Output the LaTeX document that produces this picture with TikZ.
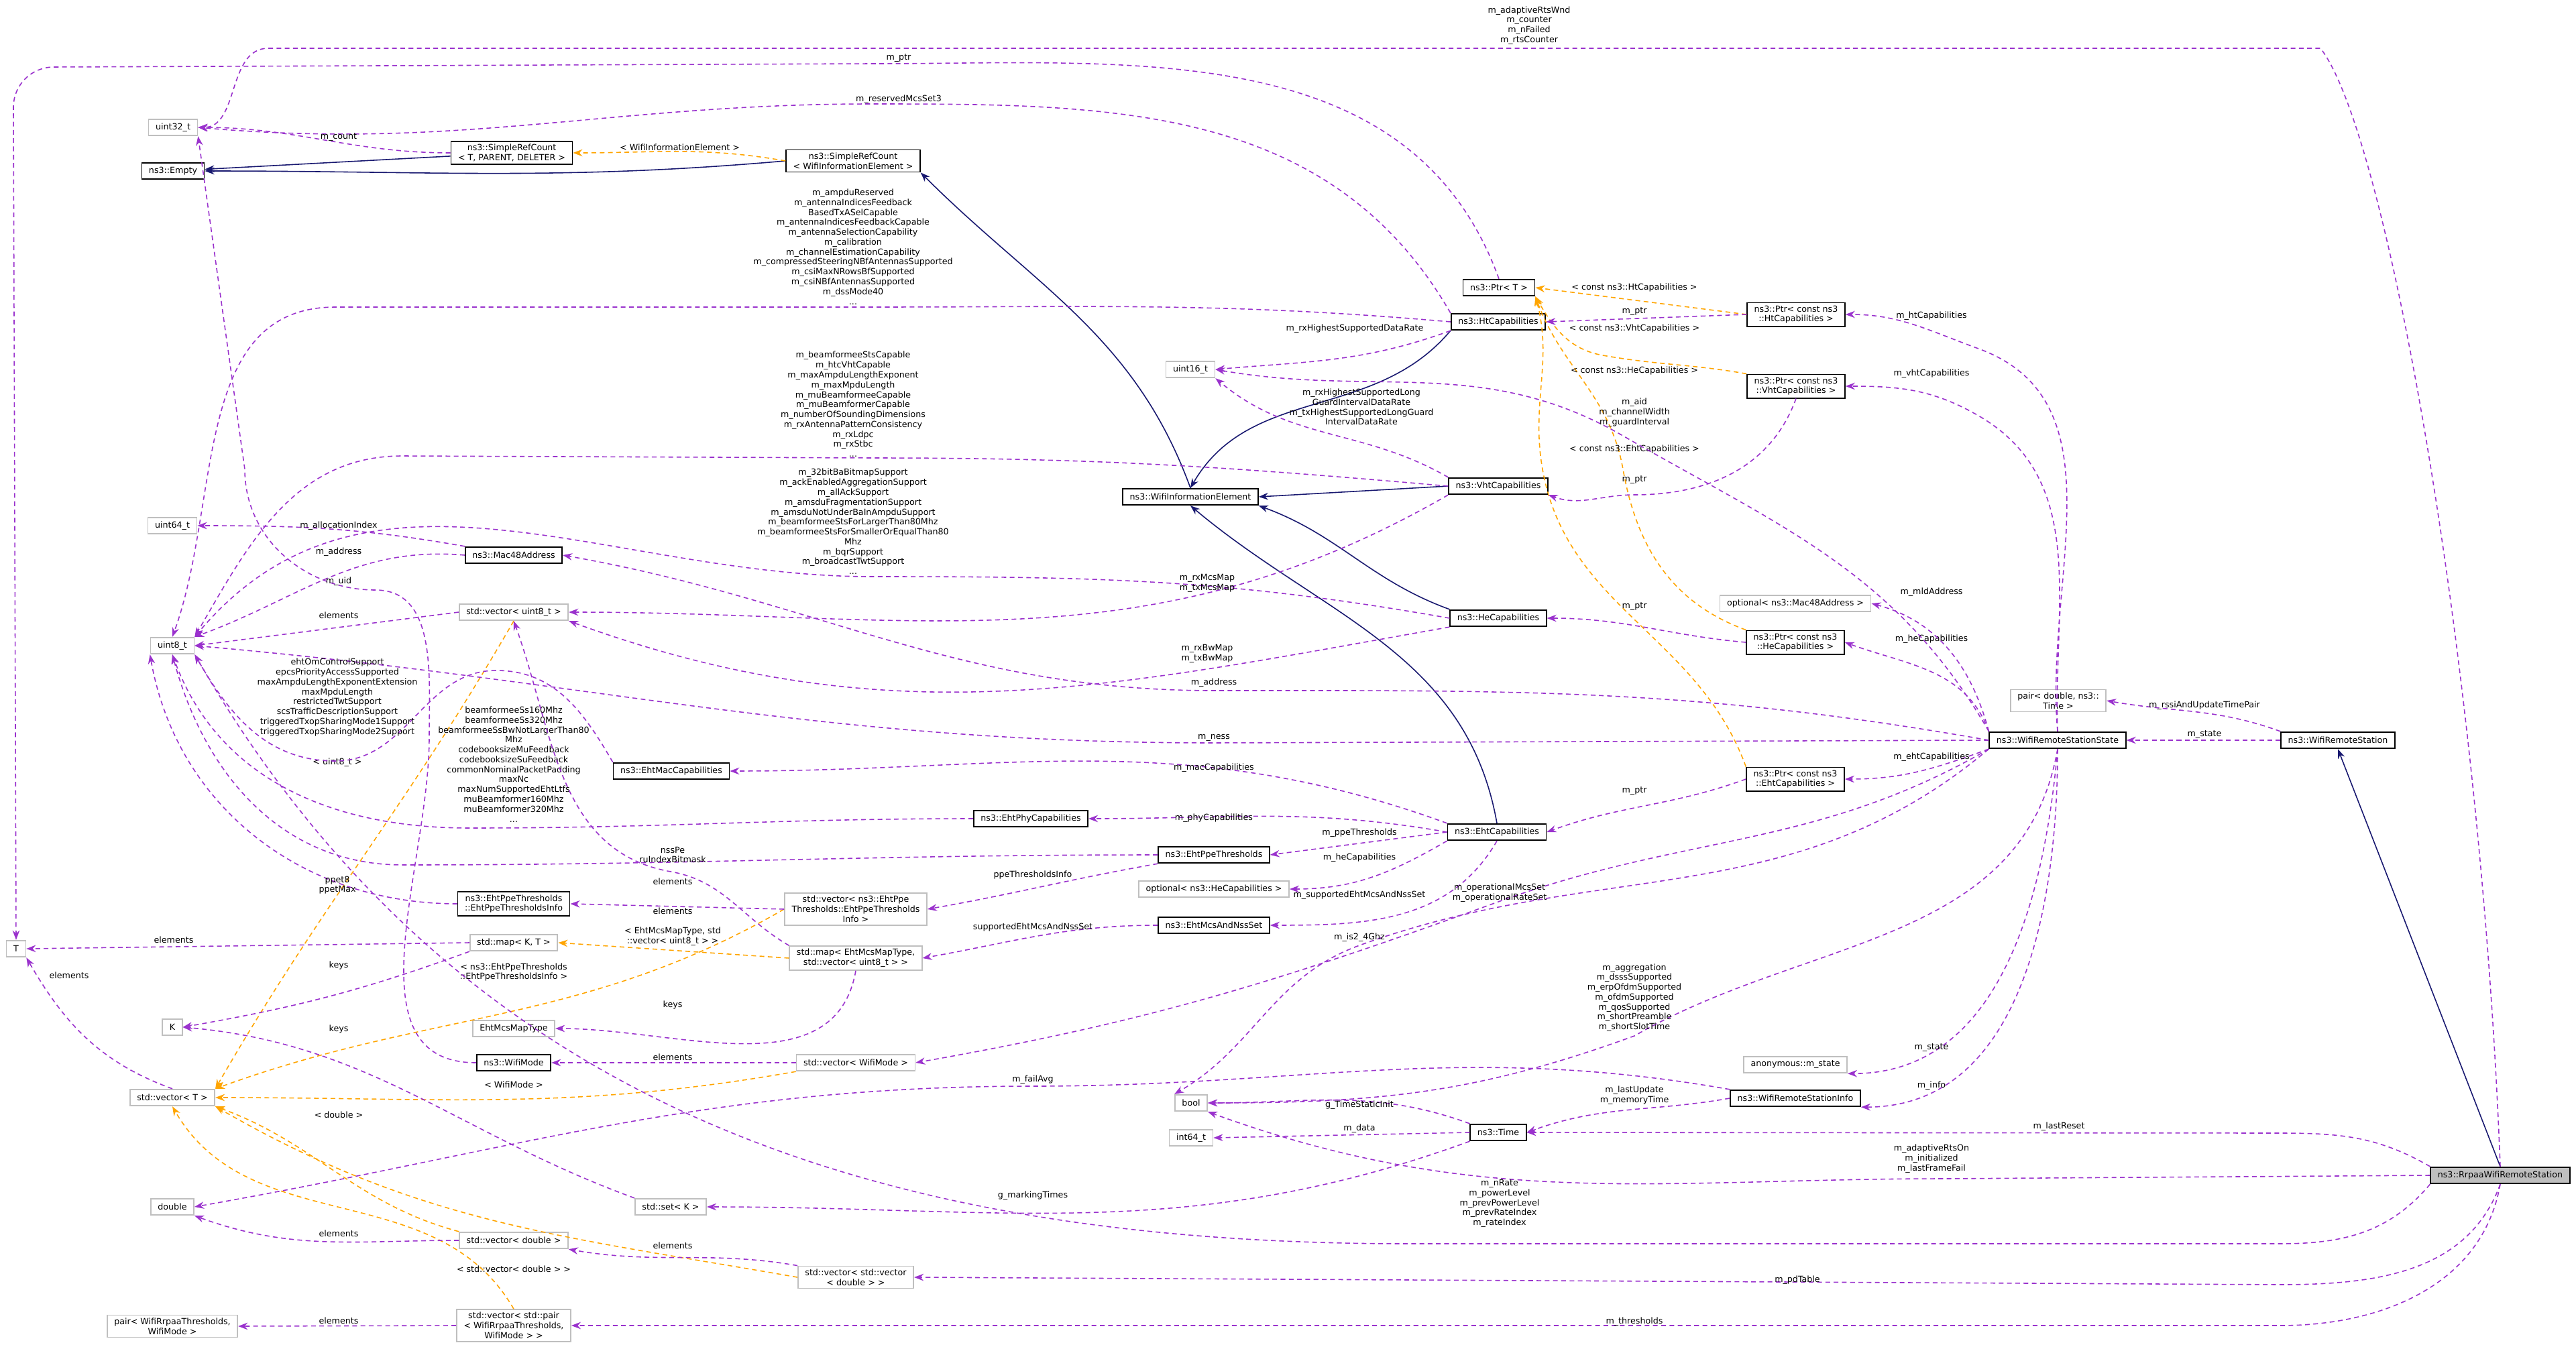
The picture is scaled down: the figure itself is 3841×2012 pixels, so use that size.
\documentclass[tikz,border=0pt]{standalone}
\usepackage{fontspec}
\setmainfont{DejaVu Sans}
\usetikzlibrary{arrows.meta}
\definecolor{usecol}{HTML}{9A32CD}
\definecolor{tplcol}{HTML}{FFA500}
\definecolor{inhcol}{HTML}{191970}
\definecolor{extcol}{HTML}{BFBFBF}

\tikzset{
  cls/.style={draw=black, line width=0.5pt, fill=white, inner xsep=3pt, inner ysep=1.2pt, minimum height=7pt, align=center},
  ext/.style={cls, draw=extcol},
  lbl/.style={inner sep=0pt, align=center},
  use/.style={draw=usecol, line width=0.45pt, dash pattern=on 2pt off 1.5pt, -{Stealth[length=4pt,width=3pt]}},
  tpl/.style={use, draw=tplcol},
  inh/.style={draw=inhcol, line width=0.45pt, -{Stealth[length=4pt,width=3pt]}}
}

\begin{document}
\begin{tikzpicture}[x=0.01cm, y=-0.01cm, every node/.append style={font=\fontsize{3.6}{4.2}\selectfont}]
	\useasboundingbox (0,0) rectangle (3841,2012);
	% left column
	\node (T) [ext] at (24,1415) {T};
	\node (u32) [ext] at (258,190) {uint32\_t};
	\node (empty) [cls] at (258,255) {ns3::Empty};
	\node (u64) [ext] at (257,784) {uint64\_t};
	\node (u8) [ext] at (257,963) {uint8\_t};
	\node (K) [ext] at (257,1532) {K};
	\node (vecT) [ext] at (257,1637) {std::vector\textless{} T \textgreater{}};
	\node (dbl) [ext] at (257,1800) {double};
	\node (pairRr) [ext] at (257,1978) {pair\textless{} WifiRrpaaThresholds,\\WifiMode \textgreater{}};
	% second column
	\node (srcT) [cls] at (763,228) {ns3::SimpleRefCount\\\textless{} T, PARENT, DELETER \textgreater{}};
	\node (mac48) [cls] at (766,828) {ns3::Mac48Address};
	\node (vecU8) [ext] at (766,913) {std::vector\textless{} uint8\_t \textgreater{}};
	\node (ppeInfo) [cls] at (766,1348) {ns3::EhtPpeThresholds\\::EhtPpeThresholdsInfo};
	\node (mapKT) [ext] at (766,1406) {std::map\textless{} K, T \textgreater{}};
	\node (mcsType) [ext] at (766,1534) {EhtMcsMapType};
	\node (wmode) [cls] at (766,1585) {ns3::WifiMode};
	\node (vecDbl) [ext] at (766,1850) {std::vector\textless{} double \textgreater{}};
	\node (vecPair) [ext] at (766,1977) {std::vector\textless{} std::pair\\\textless{} WifiRrpaaThresholds,\\WifiMode \textgreater{} \textgreater{}};
	\node (ehtMac) [cls] at (1001,1150) {ns3::EhtMacCapabilities};
	\node (setK) [ext] at (1000,1800) {std::set\textless{} K \textgreater{}};
	% third column
	\node (srcWie) [cls] at (1272,240) {ns3::SimpleRefCount\\\textless{} WifiInformationElement \textgreater{}};
	\node (vecPpe) [ext] at (1276,1356) {std::vector\textless{} ns3::EhtPpe\\Thresholds::EhtPpeThresholds\\Info \textgreater{}};
	\node (mapMcs) [ext] at (1276,1429) {std::map\textless{} EhtMcsMapType,\\std::vector\textless{} uint8\_t \textgreater{} \textgreater{}};
	\node (vecWm) [ext] at (1276,1585) {std::vector\textless{} WifiMode \textgreater{}};
	\node (vecVec) [ext] at (1276,1905) {std::vector\textless{} std::vector\\\textless{} double \textgreater{} \textgreater{}};
	\node (ehtPhy) [cls] at (1537,1221) {ns3::EhtPhyCapabilities};
	% fourth column
	\node (u16) [ext] at (1775,551) {uint16\_t};
	\node (wie) [cls] at (1775,741) {ns3::WifiInformationElement};
	\node (ppe) [cls] at (1810,1275) {ns3::EhtPpeThresholds};
	\node (optHe) [ext] at (1810,1326) {optional\textless{} ns3::HeCapabilities \textgreater{}};
	\node (mcsNss) [cls] at (1810,1380) {ns3::EhtMcsAndNssSet};
	\node (bool) [ext] at (1776,1645) {bool};
	\node (i64) [ext] at (1776,1697) {int64\_t};
	% capabilities
	\node (ptrT) [cls] at (2235,429) {ns3::Ptr\textless{} T \textgreater{}};
	\node (ht) [cls] at (2234,480) {ns3::HtCapabilities};
	\node (vht) [cls] at (2234,725) {ns3::VhtCapabilities};
	\node (he) [cls] at (2234,922) {ns3::HeCapabilities};
	\node (eht) [cls] at (2232,1241) {ns3::EhtCapabilities};
	\node (time) [cls] at (2234,1689) {ns3::Time};
	\node (ptrHt) [cls] at (2678,469) {ns3::Ptr\textless{} const ns3\\::HtCapabilities \textgreater{}};
	\node (ptrVht) [cls] at (2678,576) {ns3::Ptr\textless{} const ns3\\::VhtCapabilities \textgreater{}};
	\node (optMac) [ext] at (2677,900) {optional\textless{} ns3::Mac48Address \textgreater{}};
	\node (ptrHe) [cls] at (2677,958) {ns3::Ptr\textless{} const ns3\\::HeCapabilities \textgreater{}};
	\node (ptrEht) [cls] at (2677,1162) {ns3::Ptr\textless{} const ns3\\::EhtCapabilities \textgreater{}};
	\node (anonSt) [ext] at (2677,1588) {anonymous::m\_state};
	\node (wrsInfo) [cls] at (2677,1638) {ns3::WifiRemoteStationInfo};
	\node (pairDT) [ext] at (3069,1045) {pair\textless{} double, ns3::\\Time \textgreater{}};
	\node (wrss) [cls] at (3068,1104) {ns3::WifiRemoteStationState};
	\node (wrs) [cls] at (3486,1104) {ns3::WifiRemoteStation};
	\node (rrpaa) [cls, fill=extcol] at (3728,1753) {ns3::RrpaaWifiRemoteStation};

	% inheritance
	\draw [inh] (srcT) -- (empty);
	\draw [inh] (srcWie.west) to[out=185,in=0] (empty.east);
	\draw [inh] (wie.north) to[out=110,in=-45] (srcWie.south east);
	\draw [inh] (ht.south west) to[out=-130,in=60] (wie.north);
	\draw [inh] (vht.west) -- (wie.east);
	\draw [inh] (he.north west) to[out=160,in=-20] (wie.south east);
	\draw [inh] (eht.north) to[out=100,in=-40] (wie.south);
	\draw [inh] (rrpaa.north) -- (wrs.south);

	% templates
	\draw [tpl] (srcWie.west) to[out=170,in=0] node (lWie) [lbl, above, text=black, pos=0.5] {\textless{} WifiInformationElement \textgreater{}} (srcT.east);
	\draw [tpl] (ptrHt.west) -- (ptrT.east);
	\node (lPtrHt) [lbl] at (2437,429) {\textless{} const ns3::HtCapabilities \textgreater{}};
	\draw [tpl] (ptrVht.north west) to[out=170,in=-10] (2390,530) to[out=170,in=-60] (ptrT.south east);
	\node (lPtrVht) [lbl] at (2437,490) {\textless{} const ns3::VhtCapabilities \textgreater{}};
	\draw [tpl] (ptrHe.north west) to[out=160,in=-80] (2420,700) to[out=100,in=-70] (ptrT.south east);
	\node (lPtrHe) [lbl] at (2437,553) {\textless{} const ns3::HeCapabilities \textgreater{}};
	\draw [tpl] (ptrEht.north west) to[out=110,in=-80] (2300,700) to[out=100,in=-75] (ptrT.south east);
	\node (lPtrEht) [lbl] at (2437,670) {\textless{} const ns3::EhtCapabilities \textgreater{}};
	\draw [tpl] (vecU8.south) to[out=-120,in=60] (vecT.north east);
	\node (lU8) [lbl] at (503,1137) {\textless{} uint8\_t \textgreater{}};
	\draw [tpl] (vecPpe.west) to[out=-150,in=20] (vecT.north east);
	\node (lPpe) [lbl] at (766,1450) {\textless{} ns3::EhtPpeThresholds\\::EhtPpeThresholdsInfo \textgreater{}};
	\draw [tpl] (mapMcs.west) -- (mapKT.east);
	\node (lMcs) [lbl] at (1003,1397) {\textless{} EhtMcsMapType, std\\::vector\textless{} uint8\_t \textgreater{} \textgreater{}};
	\draw [tpl] (vecWm.south west) to[out=-170,in=0] (vecT.east);
	\node (lWm) [lbl] at (766,1618) {\textless{} WifiMode \textgreater{}};
	\draw [tpl] (vecDbl.north west) to[out=165,in=-20] (vecT.south east);
	\node (lDbl) [lbl] at (505,1663) {\textless{} double \textgreater{}};
	\draw [tpl] (vecVec.west) to[out=170,in=-30] (vecT.south east);
	\node (lVec) [lbl] at (766,1893) {\textless{} std::vector\textless{} double \textgreater{} \textgreater{}};
	\draw [tpl] (vecPair.north) to[out=120,in=-60] (vecT.south);

	% members
	\draw [use] (rrpaa.north) .. controls (3700,1000) and (3560,200) .. (3460,72) -- (400,72) to[out=180,in=0] (u32.east);
	\node (lRts) [lbl] at (2280,38) {m\_adaptiveRtsWnd\\m\_counter\\m\_nFailed\\m\_rtsCounter};
	\draw [use] (ptrT.north) to[out=110,in=0] (1300,95) -- (80,100) to[out=180,in=90] (20,160) -- (T.north);
	\node (lPtrT) [lbl] at (1340,87) {m\_ptr};
	\draw [use] (ht.north west) to[out=120,in=0] (1300,155) to[out=180,in=-5] (u32.east);
	\node (lRes) [lbl] at (1340,148) {m\_reservedMcsSet3};
	\draw [use] (srcT.west) to[out=180,in=0] (u32.east);
	\node (lCount) [lbl] at (505,205) {m\_count};
	\draw [use] (ht.west) to[out=175,in=0] (1300,458) -- (500,458) to[out=180,in=70] (u8.north);
	\node (lHt) [lbl] at (1272,368) {m\_ampduReserved\\m\_antennaIndicesFeedback\\BasedTxASelCapable\\m\_antennaIndicesFeedbackCapable\\m\_antennaSelectionCapability\\m\_calibration\\m\_channelEstimationCapability\\m\_compressedSteeringNBfAntennasSupported\\m\_csiMaxNRowsBfSupported\\m\_csiNBfAntennasSupported\\m\_dssMode40\\...};
	\draw [use] (ht.south west) to[out=-160,in=5] (u16.east);
	\node (lRxH) [lbl] at (2020,490) {m\_rxHighestSupportedDataRate};
	\draw [use] (vht.north west) to[out=150,in=-40] (u16.south east);
	\node (lRxL) [lbl] at (2030,607) {m\_rxHighestSupportedLong\\GuardIntervalDataRate\\m\_txHighestSupportedLongGuard\\IntervalDataRate};
	\draw [use] (vht.west) to[out=175,in=0] (1300,683) -- (600,680) to[out=180,in=60] (u8.north east);
	\node (lVht) [lbl] at (1272,603) {m\_beamformeeStsCapable\\m\_htcVhtCapable\\m\_maxAmpduLengthExponent\\m\_maxMpduLength\\m\_muBeamformeeCapable\\m\_muBeamformerCapable\\m\_numberOfSoundingDimensions\\m\_rxAntennaPatternConsistency\\m\_rxLdpc\\m\_rxStbc\\...};
	\draw [use] (he.west) to[out=170,in=0] (1300,860) to[out=180,in=50] (u8.north east);
	\node (lHe) [lbl] at (1272,778) {m\_32bitBaBitmapSupport\\m\_ackEnabledAggregationSupport\\m\_allAckSupport\\m\_amsduFragmentationSupport\\m\_amsduNotUnderBaInAmpduSupport\\m\_beamformeeStsForLargerThan80Mhz\\m\_beamformeeStsForSmallerOrEqualThan80\\Mhz\\m\_bqrSupport\\m\_broadcastTwtSupport\\...};
	\draw [use] (vht.south west) to[out=-150,in=0] (vecU8.east);
	\node (lMcsMap) [lbl] at (1800,870) {m\_rxMcsMap\\m\_txMcsMap};
	\draw [use] (he.south west) to[out=-170,in=-20] (vecU8.south east);
	\node (lBw) [lbl] at (1800,975) {m\_rxBwMap\\m\_txBwMap};
	\draw [use] (wrss.west) to[out=170,in=0] (1810,1030) to[out=180,in=-10] (mac48.east);
	\node (lAddr) [lbl] at (1810,1018) {m\_address};
	\draw [use] (wrss.west) -- (1810,1108) to[out=180,in=-5] (u8.east);
	\node (lNess) [lbl] at (1810,1100) {m\_ness};
	\draw [use] (mac48.west) to[out=175,in=20] (u8.north east);
	\node (lMacA) [lbl] at (505,823) {m\_address};
	\draw [use] (mac48.north west) to[out=170,in=0] (u64.east);
	\node (lAlloc) [lbl] at (505,784) {m\_allocationIndex};
	\draw [use] (wmode.west) to[out=180,in=-90] (640,1100) to[out=90,in=0] (560,880) to[out=180,in=-90] (365,700) -- (u32.south east);
	\node (lUid) [lbl] at (505,867) {m\_uid};
	\draw [use] (vecU8.west) -- (u8.east);
	\node (lElU8) [lbl] at (505,918) {elements};
	\draw [use] (ehtMac.north west) to[out=120,in=0] (740,1000) to[out=180,in=0] (500,1135) to[out=180,in=-60] (u8.south east);
	\node (lEhtMac) [lbl] at (503,1040) {ehtOmControlSupport\\epcsPriorityAccessSupported\\maxAmpduLengthExponentExtension\\maxMpduLength\\restrictedTwtSupport\\scsTrafficDescriptionSupport\\triggeredTxopSharingMode1Support\\triggeredTxopSharingMode2Support};
	\draw [use] (ehtPhy.west) to[out=180,in=0] (700,1235) to[out=180,in=-70] (u8.south);
	\node (lEhtPhy) [lbl] at (766,1140) {beamformeeSs160Mhz\\beamformeeSs320Mhz\\beamformeeSsBwNotLargerThan80\\Mhz\\codebooksizeMuFeedback\\codebooksizeSuFeedback\\commonNominalPacketPadding\\maxNc\\maxNumSupportedEhtLtfs\\muBeamformer160Mhz\\muBeamformer320Mhz\\...};
	\draw [use] (ppe.west) to[out=180,in=0] (600,1290) to[out=180,in=-75] (u8.south);
	\node (lNss) [lbl] at (1003,1275) {nssPe\\ruIndexBitmask};
	\draw [use] (ppeInfo.west) to[out=180,in=-80] (u8.south west);
	\node (lPpet) [lbl] at (503,1320) {ppet8\\ppetMax};
	\draw [use] (vecPpe.west) -- (ppeInfo.east);
	\node (lElPpe) [lbl] at (1003,1359) {elements};
	\draw [use] (ppe.south west) to[out=-170,in=10] (vecPpe.east);
	\node (lPpeI) [lbl] at (1540,1305) {ppeThresholdsInfo};
	\draw [use] (mcsNss.west) to[out=180,in=10] (mapMcs.east);
	\node (lSup) [lbl] at (1540,1383) {supportedEhtMcsAndNssSet};
	\draw [use] (eht.north west) to[out=160,in=0] (ehtMac.east);
	\node (lMac) [lbl] at (1810,1145) {m\_macCapabilities};
	\draw [use] (eht.west) to[out=170,in=0] (ehtPhy.east);
	\node (lPhy) [lbl] at (1810,1220) {m\_phyCapabilities};
	\draw [use] (eht.west) -- (ppe.east);
	\node (lPpeT) [lbl] at (2027,1242) {m\_ppeThresholds};
	\draw [use] (eht.south west) to[out=-150,in=0] (optHe.east);
	\node (lHeC) [lbl] at (2027,1279) {m\_heCapabilities};
	\draw [use] (eht.south) to[out=-120,in=0] (mcsNss.east);
	\node (lSupE) [lbl] at (2027,1335) {m\_supportedEhtMcsAndNssSet};
	\draw [use] (mapMcs.south) to[out=-100,in=0] (mcsType.east);
	\node (lKeys1) [lbl] at (1003,1499) {keys};
	\draw [use] (mapMcs.north west) to[out=150,in=-10] (1000,1300) to[out=170,in=-70] (vecU8.south);
	\node (lElM) [lbl] at (1003,1315) {elements};
	\draw [use] (mapKT.west) -- (T.east);
	\node (lElT) [lbl] at (259,1402) {elements};
	\draw [use] (mapKT.south west) to[out=-160,in=10] (K.east);
	\node (lKeys2) [lbl] at (505,1440) {keys};
	\draw [use] (vecT.north) to[out=160,in=-60] (T.south east);
	\node (lElT2) [lbl] at (103,1455) {elements};
	\draw [use] (setK.north west) to[out=160,in=-5] (K.east);
	\node (lKeys3) [lbl] at (505,1535) {keys};
	\draw [use] (vecWm.west) -- (wmode.east);
	\node (lElWm) [lbl] at (1003,1577) {elements};
	\draw [use] (vecDbl.west) to[out=180,in=-20] (dbl.south east);
	\node (lElD) [lbl] at (505,1840) {elements};
	\draw [use] (vecPair.west) -- (pairRr.east);
	\node (lElP) [lbl] at (505,1970) {elements};
	\draw [use] (vecVec.north west) to[out=170,in=-10] (vecDbl.south east);
	\node (lElV) [lbl] at (1003,1858) {elements};
	\draw [use] (ptrHt.west) -- (ht.east);
	\node (lPtr1) [lbl] at (2437,465) {m\_ptr};
	\draw [use] (ptrVht.south) to[out=-110,in=0] (2437,738) to[out=180,in=-20] (vht.south east);
	\node (lPtr2) [lbl] at (2437,716) {m\_ptr};
	\draw [use] (ptrHe.west) to[out=175,in=0] (he.east);
	\node (lPtr3) [lbl] at (2437,905) {m\_ptr};
	\draw [use] (ptrEht.west) to[out=-160,in=20] (eht.east);
	\node (lPtr4) [lbl] at (2437,1180) {m\_ptr};
	\draw [use] (wrss.north) to[out=95,in=-20] (2950,520) to[out=160,in=0] (ptrHt.east);
	\node (lHtC) [lbl] at (2880,471) {m\_htCapabilities};
	\draw [use] (wrss.north) to[out=92,in=-30] (2950,620) to[out=150,in=0] (ptrVht.east);
	\node (lVhtC) [lbl] at (2880,557) {m\_vhtCapabilities};
	\draw [use] (wrss.north west) to[out=110,in=-20] (ptrHe.east);
	\node (lHeC2) [lbl] at (2880,953) {m\_heCapabilities};
	\draw [use] (wrss.north west) to[out=105,in=-15] (optMac.east);
	\node (lMld) [lbl] at (2880,883) {m\_mldAddress};
	\draw [use] (wrss.south west) to[out=-160,in=0] (ptrEht.east);
	\node (lEhtC) [lbl] at (2880,1129) {m\_ehtCapabilities};
	\draw [use] (wrss.north west) to[out=120,in=-30] (2420,650) to[out=150,in=-10] (u16.east);
	\node (lAid) [lbl] at (2437,615) {m\_aid\\m\_channelWidth\\m\_guardInterval};
	\draw [use] (wrss.south west) to[out=-150,in=20] (2234,1345) to[out=-160,in=10] (vecWm.east);
	\node (lOp) [lbl] at (2236,1332) {m\_operationalMcsSet\\m\_operationalRateSet};
	\draw [use] (wrss.south west) to[out=-140,in=20] (2027,1410) to[out=-160,in=30] (bool.north west);
	\node (lIs) [lbl] at (2027,1398) {m\_is2\_4Ghz};
	\draw [use] (wrss.south) to[out=-100,in=30] (2437,1545) to[out=-160,in=0] (bool.east);
	\node (lAgg) [lbl] at (2437,1488) {m\_aggregation\\m\_dsssSupported\\m\_erpOfdmSupported\\m\_ofdmSupported\\m\_qosSupported\\m\_shortPreamble\\m\_shortSlotTime};
	\draw [use] (wrss.south) to[out=-95,in=0] (anonSt.south east);
	\node (lSt) [lbl] at (2880,1563) {m\_state};
	\draw [use] (wrss.south) to[out=-90,in=0] (wrsInfo.south east);
	\node (lInfo) [lbl] at (2880,1619) {m\_info};
	\draw [use] (wrs.west) -- (wrss.east);
	\node (lSt2) [lbl] at (3287,1096) {m\_state};
	\draw [use] (wrs.north west) to[out=160,in=-10] (pairDT.east);
	\node (lRssi) [lbl] at (3287,1052) {m\_rssiAndUpdateTimePair};
	\draw [use] (wrsInfo.west) to[out=-170,in=20] (time.east);
	\node (lUpd) [lbl] at (2437,1634) {m\_lastUpdate\\m\_memoryTime};
	\draw [use] (wrsInfo.north west) to[out=170,in=0] (1540,1620) to[out=180,in=10] (dbl.east);
	\node (lFail) [lbl] at (1540,1610) {m\_failAvg};
	\draw [use] (time.north west) to[out=160,in=0] (bool.east);
	\node (lGts) [lbl] at (2027,1648) {g\_TimeStaticInit};
	\draw [use] (time.west) -- (i64.east);
	\node (lData) [lbl] at (2027,1683) {m\_data};
	\draw [use] (time.south west) to[out=-160,in=0] (setK.east);
	\node (lMark) [lbl] at (1540,1783) {g\_markingTimes};
	\draw [use] (rrpaa.north west) to[out=150,in=0] (3400,1690) -- (time.east);
	\node (lReset) [lbl] at (3070,1680) {m\_lastReset};
	\draw [use] (rrpaa.west) -- (2900,1758) to[out=180,in=-20] (bool.south east);
	\node (lAdapt) [lbl] at (2880,1728) {m\_adaptiveRtsOn\\m\_initialized\\m\_lastFrameFail};
	\draw [use] (rrpaa.south west) to[out=-130,in=0] (3400,1855) -- (2100,1855) to[out=180,in=-60] (u8.south east);
	\node (lRate) [lbl] at (2236,1795) {m\_nRate\\m\_powerLevel\\m\_prevPowerLevel\\m\_prevRateIndex\\m\_rateIndex};
	\draw [use] (rrpaa.south) to[out=-110,in=0] (3400,1916) -- (vecVec.east);
	\node (lPd) [lbl] at (2680,1909) {m\_pdTable};
	\draw [use] (rrpaa.south) to[out=-100,in=0] (3400,1977) -- (vecPair.east);
	\node (lThr) [lbl] at (2437,1971) {m\_thresholds};
\end{tikzpicture}
\end{document}
